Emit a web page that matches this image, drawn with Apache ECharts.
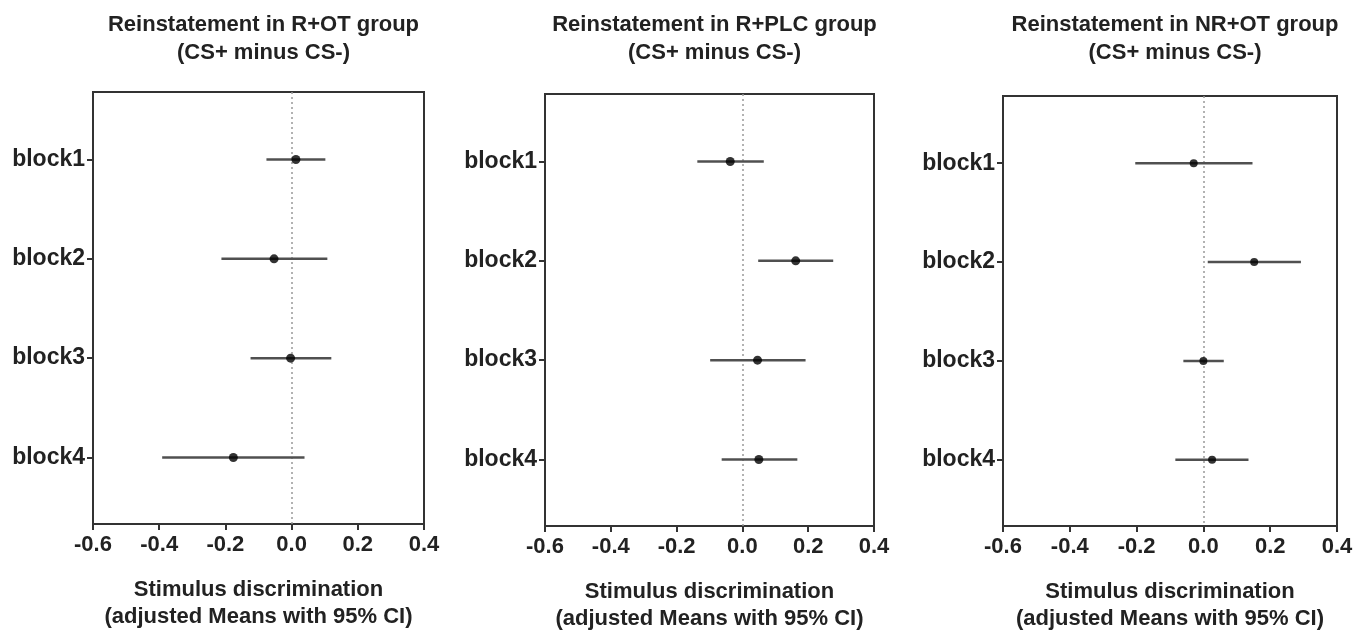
<!DOCTYPE html>
<html>
<head>
<meta charset="utf-8">
<script src="https://cdn.jsdelivr.net/npm/echarts@6/dist/echarts.min.js"></script>
<style>
html,body{margin:0;padding:0;background:#fff;}
#chart{width:1368px;height:637px;}
</style>
</head>
<body>
<div id="chart"></div>
<script>
// ---- data ----
var blocks = ['block1', 'block2', 'block3', 'block4'];
var blockPos = [1, 2, 3, 4];
var xTicks = [-0.6, -0.4, -0.2, 0.0, 0.2, 0.4];

var titles = [
  'Reinstatement in R+OT group\n(CS+ minus CS-)',
  'Reinstatement in R+PLC group\n(CS+ minus CS-)',
  'Reinstatement in NR+OT group\n(CS+ minus CS-)'
];
var xTitle = 'Stimulus discrimination\n(adjusted Means with 95% CI)';

var rotMean = [0.013, -0.053, -0.003, -0.176];
var rotLo   = [-0.076, -0.212, -0.124, -0.391];
var rotHi   = [0.102, 0.108, 0.120, 0.039];

var plcMean = [-0.037, 0.162, 0.046, 0.050];
var plcLo   = [-0.137, 0.048, -0.098, -0.063];
var plcHi   = [0.065, 0.276, 0.192, 0.167];

var nrMean = [-0.029, 0.152, 0.000, 0.026];
var nrLo   = [-0.204, 0.013, -0.060, -0.084];
var nrHi   = [0.147, 0.292, 0.061, 0.135];

// ---- layout ----
var panels = [
  {mean: rotMean, lo: rotLo, hi: rotHi, left: 93,   top: 92, width: 331, height: 432, dot: 9},
  {mean: plcMean, lo: plcLo, hi: plcHi, left: 545,  top: 94, width: 329, height: 436, dot: 9},
  {mean: nrMean,  lo: nrLo,  hi: nrHi,  left: 1003, top: 96, width: 334, height: 435, dot: 8}
];

var FONT = '"Liberation Sans", Arial, sans-serif';
var TXT = '#222';
var AX = '#333';

var option = {
  backgroundColor: '#fff',
  animation: false,
  title: [], grid: [], xAxis: [], yAxis: [], series: []
};

panels.forEach(function (p, i) {
  option.title.push({
    text: titles[i],
    left: p.left + p.width / 2,
    top: 6,
    textAlign: 'center',
    textStyle: {fontFamily: FONT, fontSize: 22, fontWeight: 'bold', color: TXT, lineHeight: 28}
  });
  option.grid.push({
    left: p.left, top: p.top, width: p.width, height: p.height,
    show: true, borderColor: AX, borderWidth: 2, backgroundColor: '#fff'
  });
  option.xAxis.push({
    type: 'value', gridIndex: i, min: xTicks[0], max: xTicks[xTicks.length - 1], interval: 0.2,
    axisLine: {show: true, onZero: false, lineStyle: {color: AX, width: 2}},
    axisTick: {show: true, length: 6, lineStyle: {color: AX, width: 2}},
    splitLine: {show: false},
    axisLabel: {
      margin: 10, fontFamily: FONT, fontSize: 22, fontWeight: 'bold', color: TXT,
      formatter: function (v) { return v.toFixed(1); }
    },
    name: xTitle, nameLocation: 'middle', nameGap: 52,
    nameTextStyle: {fontFamily: FONT, fontSize: 22, fontWeight: 'bold', color: TXT, lineHeight: 27}
  });
  option.yAxis.push({
    type: 'value', gridIndex: i, min: 0.32, max: 4.67, inverse: true,
    axisLine: {show: true, onZero: false, lineStyle: {color: AX, width: 2}},
    axisTick: {show: true, length: 6, customValues: blockPos, lineStyle: {color: AX, width: 2}},
    splitLine: {show: false},
    axisLabel: {
      margin: 8, customValues: blockPos, fontFamily: FONT, fontSize: 23, fontWeight: 'bold', color: TXT,
      formatter: function (v) { return blocks[Math.round(v) - 1] || ''; }
    }
  });
  var ciData = blocks.map(function (b, k) { return [p.lo[k], p.hi[k], blockPos[k]]; });
  option.series.push({
    type: 'custom', xAxisIndex: i, yAxisIndex: i, z: 3,
    data: ciData,
    encode: {x: [0, 1], y: 2},
    renderItem: function (params, api) {
      var a = api.coord([api.value(0), api.value(2)]);
      var b = api.coord([api.value(1), api.value(2)]);
      return {type: 'line', shape: {x1: a[0], y1: a[1], x2: b[0], y2: b[1]},
              style: {stroke: '#505050', lineWidth: 2.5}};
    }
  });
  option.series.push({
    type: 'scatter', xAxisIndex: i, yAxisIndex: i, z: 4,
    symbol: 'circle', symbolSize: p.dot,
    itemStyle: {color: '#000'},
    data: blocks.map(function (b, k) { return [p.mean[k], blockPos[k]]; }),
    markLine: {
      silent: true, symbol: 'none', z: 1,
      label: {show: false},
      lineStyle: {color: '#999', type: [2, 3], width: 1.5},
      emphasis: {disabled: true},
      data: [{xAxis: 0}]
    }
  });
});

var chart = echarts.init(document.getElementById('chart'), null, {renderer: 'canvas'});
chart.setOption(option);
</script>
</body>
</html>
